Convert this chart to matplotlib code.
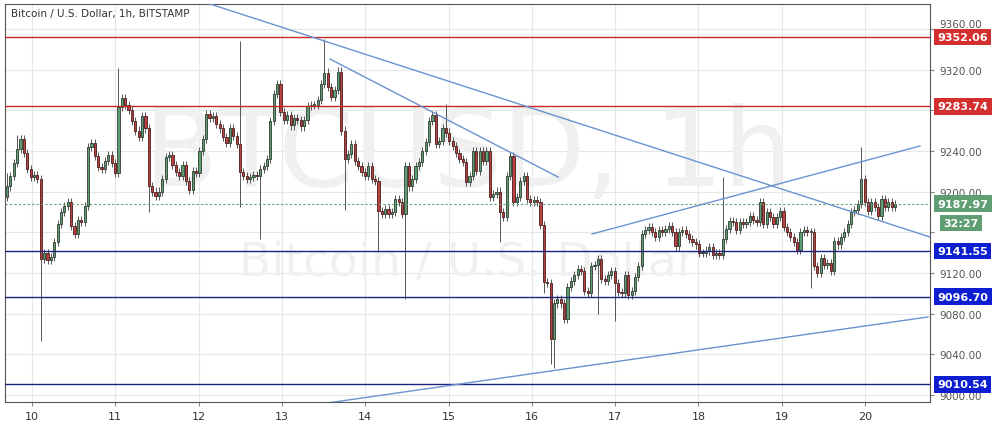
import matplotlib
matplotlib.use("Agg")
import matplotlib.pyplot as plt
import numpy as np

closes = [
 9205, 9215, 9228, 9242, 9252, 9238, 9222, 9214, 9216, 9212, 9134,
 9140, 9133, 9136, 9150, 9168, 9180, 9186, 9190, 9166, 9158, 9172, 9170, 9186,
 9244, 9248, 9235, 9224, 9222, 9230, 9236, 9228, 9218,
 9283, 9292, 9285, 9280, 9269, 9260, 9254, 9274, 9262,
 9205, 9200, 9196, 9200, 9212, 9234, 9236, 9226, 9219, 9215, 9226, 9210, 9202, 9220, 9218,
 9240, 9252, 9276, 9272, 9274, 9266, 9262, 9254, 9248, 9262, 9255, 9247,
 9219, 9215, 9212, 9214, 9216, 9215, 9222, 9225, 9232, 9269, 9296, 9306, 9278, 9270, 9275, 9265,
 9272, 9270, 9264, 9270, 9284, 9285, 9285, 9290, 9306, 9317,
 9303, 9293, 9300, 9318, 9260, 9232, 9237, 9247, 9230, 9225, 9219, 9215, 9225, 9212, 9210,
 9181, 9178, 9183, 9178, 9180, 9193, 9190, 9178, 9225, 9205, 9212, 9225, 9229, 9240, 9249,
 9269, 9275, 9247, 9250, 9262, 9258, 9250, 9245, 9238, 9232,
 9229, 9209, 9215, 9240, 9220, 9240, 9230, 9240, 9195, 9198, 9200, 9180, 9175, 9215, 9235,
 9190, 9195, 9210, 9215, 9193, 9190, 9192, 9190, 9167,
 9111, 9110, 9055, 9090, 9094, 9090, 9075, 9106, 9112, 9118, 9124, 9122, 9102, 9100, 9127,
 9128, 9134, 9114, 9112, 9118, 9122, 9110, 9101, 9100, 9118, 9098, 9102, 9116, 9127, 9158,
 9162, 9165, 9160, 9155, 9162, 9160, 9163, 9166, 9160, 9146, 9160, 9162, 9158,
 9153, 9150, 9148, 9140, 9140, 9142, 9145, 9138, 9140, 9138,
 9153, 9163, 9171, 9170, 9162, 9170, 9168, 9170, 9176, 9172,
 9170, 9190, 9168, 9180, 9175, 9168, 9175, 9181, 9165, 9160,
 9155, 9150, 9143, 9160, 9162, 9160, 9160, 9127, 9120, 9135,
 9128, 9130, 9122, 9151, 9148, 9155, 9160, 9168, 9180, 9182,
 9188, 9212, 9190, 9181, 9190, 9185, 9176, 9193, 9185, 9190,
 9185, 9188]
first_open = 9195
long_highs = {3: 9256, 33: 9321, 69: 9348, 94: 9350, 130: 9286, 212: 9214, 253: 9244, 0: 9218}
long_lows = {10: 9053, 42: 9180, 69: 9185, 75: 9153, 100: 9182, 110: 9141, 118: 9094,
             146: 9150, 159: 9100, 161: 9030, 162: 9027, 175: 9080, 180: 9073, 238: 9105}

h_levels_red = [9352.06, 9283.74]
h_levels_blue = [9141.55, 9096.70, 9010.54]
last_price = 9187.97
countdown = "32:27"
day_ticks = list(range(10, 21))
price_ticks = list(range(9000, 9361, 40))
hidden_price_labels = [9280, 9160]
trend_lines = [((12.137, 9384.4), (20.78, 9155.3)),
               ((13.577, 9330.3), (16.315, 9214.3)),
               ((16.723, 9158.3), (20.66, 9244.8)),
               ((13.457, 8991.1), (20.756, 9076.7))]

n = len(closes)
opens = [first_open] + closes[:-1]
xs = np.linspace(9.70, 20.36, n)
step = xs[1] - xs[0]

fig = plt.figure(figsize=(10.05, 4.35), dpi=100)
ax = fig.add_axes([5/1005, 32/435, 925/1005, 398/435])
ax.set_xlim(9.676, 20.78)
ax.set_ylim(8993.1, 9384.4)

for t in price_ticks:
    ax.axhline(t, color='#e6e6e6', lw=0.8, zorder=0)
for d in day_ticks:
    ax.axvline(d, color='#e6e6e6', lw=0.8, zorder=0)

ax.text(0.5, 0.62, "BTCUSD, 1h", transform=ax.transAxes, ha='center', va='center',
        fontsize=78, color='#f0f0f0', zorder=0.5)
ax.text(0.5, 0.35, "Bitcoin / U.S. Dollar", transform=ax.transAxes, ha='center', va='center',
        fontsize=34, color='#f0f0f0', zorder=0.5)

for i in range(n):
    o, c = opens[i], closes[i]
    hi = long_highs.get(i, max(o, c) + 4)
    lo = long_lows.get(i, min(o, c) - 4)
    up = c >= o
    ax.vlines(xs[i], lo, hi, color='#555555', lw=0.7, zorder=2)
    ax.bar(xs[i], max(abs(c - o), 0.8), bottom=min(o, c), width=step * 0.65,
           color='#5e9e72' if up else '#b8423f', edgecolor='#2d3a30' if up else '#4a1c1c',
           lw=0.6, zorder=3)

for y in h_levels_red:
    ax.axhline(y, color='#c62828', lw=1.0, zorder=4)
for y in h_levels_blue:
    ax.axhline(y, color='#1a237e', lw=1.0, zorder=4)
ax.axhline(last_price, color='#5e9e72', lw=0.8, ls=(0, (2, 2)), zorder=4)
for (x0, y0), (x1, y1) in trend_lines:
    ax.plot([x0, x1], [y0, y1], color='#6a93d0', lw=1.0, zorder=5)

ax.yaxis.tick_right()
ax.set_yticks(price_ticks)
ax.set_yticklabels(["" if t in hidden_price_labels else f"{t:.2f}" for t in price_ticks])
ax.tick_params(axis='y', length=3, colors='#888888', labelsize=7.5, labelcolor='#555555', pad=4)
ax.set_xticks(day_ticks)
ax.set_xticklabels([str(d) for d in day_ticks])
ax.tick_params(axis='x', length=3, colors='#888888', labelsize=8, labelcolor='#333333')
for s in ax.spines.values():
    s.set_color('#555555')
    s.set_linewidth(0.8)
for lab in ax.get_yticklabels():
    if lab.get_text() == "9360.00":
        lab.set_va('bottom')

def label(y, txt, fc, fs=8):
    ax.text(1.008, y, txt, transform=ax.get_yaxis_transform(), ha='left', va='center',
            fontsize=fs, color='white', fontweight='bold', zorder=10, clip_on=False,
            bbox=dict(boxstyle='square,pad=0.3', fc=fc, ec='none'))
for y in h_levels_red:
    label(y, f"{y:.2f}", '#d32f2f')
for y in h_levels_blue:
    label(y, f"{y:.2f}", '#0d1fd1')
label(last_price, f"{last_price:.2f}", '#5e9e72')
ax.text(0.984 + 0.05, last_price - 19, countdown, transform=ax.get_yaxis_transform(),
        ha='center', va='center', fontsize=8, color='white', fontweight='bold', zorder=10,
        clip_on=False, bbox=dict(boxstyle='square,pad=0.3', fc='#5e9e72', ec='none'))

ax.text(0.006, 0.99, "Bitcoin / U.S. Dollar, 1h, BITSTAMP", transform=ax.transAxes,
        ha='left', va='top', fontsize=7.5, color='#333333', zorder=10)

fig.savefig("out.png", dpi=100)
